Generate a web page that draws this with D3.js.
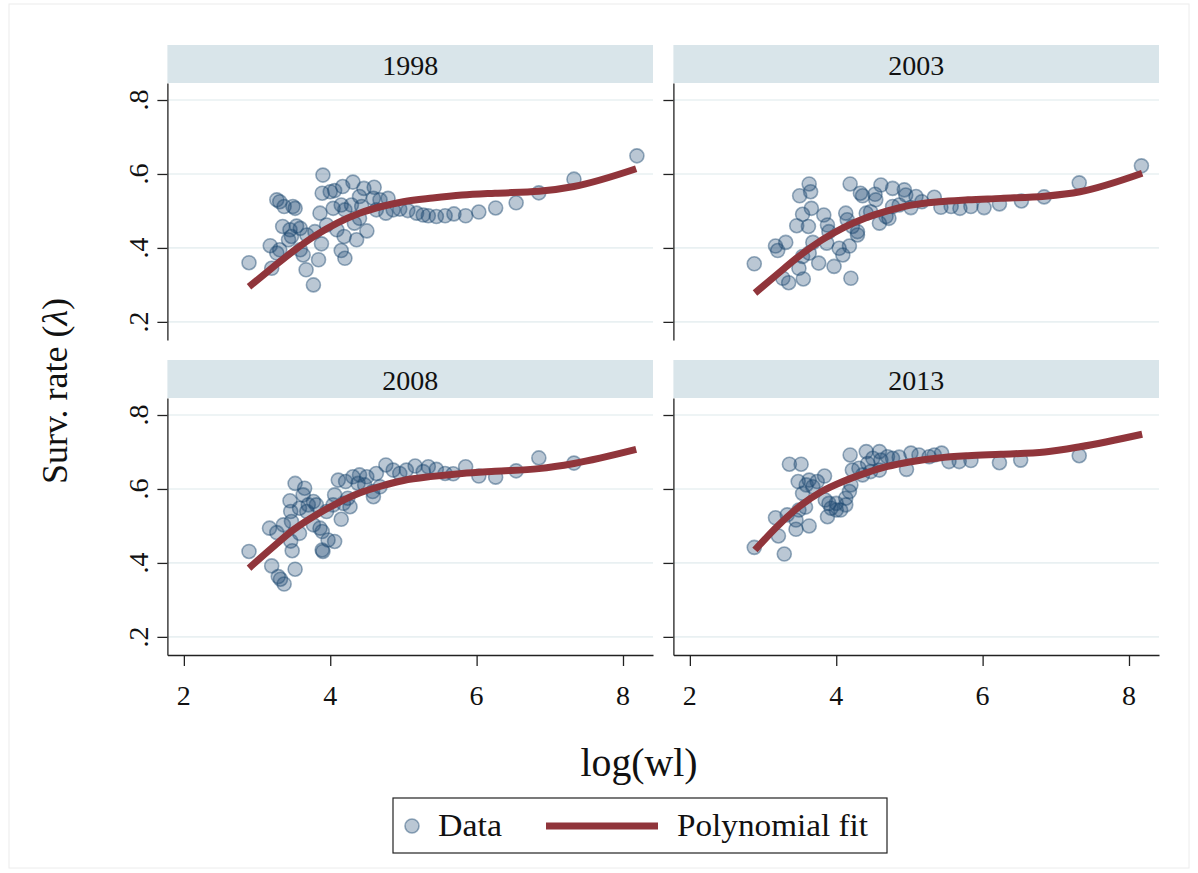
<!DOCTYPE html>
<html><head><meta charset="utf-8">
<script src="https://cdn.jsdelivr.net/npm/d3@7"></script>
<style>body{margin:0;background:#fff} svg{display:block}</style>
</head><body><svg id="c" width="1198" height="873"></svg>
<script>
// ---------- DATA ----------
const years = ["1998", "2003", "2008", "2013"];

const x1998 = [3.90,3.89,4.00,4.06,4.17,4.31,4.46,4.60,4.40,3.27,3.31,3.37,3.49,3.52,3.86,4.04,4.15,4.20,4.29,4.43,4.59,4.68,4.79,4.63,4.76,4.86,4.95,5.06,5.18,5.27,5.34,5.45,5.57,5.69,3.35,3.45,3.54,3.59,3.47,3.43,3.68,3.79,3.95,4.09,4.19,4.36,4.50,4.33,4.40,3.18,3.31,3.27,3.59,3.63,3.88,4.15,4.20,3.84,2.89,3.20,3.67,3.77,5.85,6.03,6.26,6.54,6.85,7.33,8.19];
const y1998 = [0.597,0.548,0.552,0.555,0.566,0.578,0.561,0.564,0.539,0.530,0.525,0.512,0.512,0.507,0.494,0.507,0.516,0.503,0.516,0.512,0.534,0.530,0.534,0.503,0.494,0.503,0.505,0.501,0.494,0.489,0.487,0.485,0.487,0.492,0.458,0.449,0.459,0.453,0.431,0.422,0.435,0.444,0.462,0.449,0.431,0.422,0.446,0.467,0.480,0.406,0.395,0.386,0.395,0.381,0.411,0.393,0.372,0.368,0.360,0.345,0.341,0.300,0.487,0.497,0.508,0.522,0.549,0.586,0.649];

const x2003 = [2.88,3.17,3.20,3.31,3.27,3.35,3.55,3.49,3.63,3.65,3.50,3.66,3.54,3.46,3.62,3.68,3.63,3.54,3.76,3.83,3.88,3.90,3.87,3.97,4.04,4.09,4.18,4.20,4.19,4.13,4.15,4.22,4.29,4.29,4.33,4.36,4.53,4.54,4.41,4.47,4.59,4.68,4.72,4.61,4.77,4.93,4.95,4.77,4.86,5.02,5.09,5.17,5.34,5.43,5.57,5.69,5.84,6.02,6.23,6.53,6.84,7.32,8.17];
const y2003 = [0.357,0.405,0.393,0.415,0.318,0.306,0.316,0.345,0.573,0.552,0.541,0.507,0.491,0.460,0.458,0.415,0.386,0.377,0.359,0.489,0.462,0.444,0.413,0.350,0.399,0.381,0.405,0.318,0.573,0.494,0.476,0.458,0.444,0.435,0.548,0.541,0.545,0.530,0.494,0.498,0.467,0.485,0.480,0.570,0.561,0.557,0.543,0.512,0.516,0.509,0.539,0.525,0.537,0.510,0.512,0.507,0.512,0.509,0.519,0.527,0.538,0.576,0.622];

const x2008 = [2.89,3.20,3.29,3.32,3.37,3.52,3.17,3.27,3.36,3.46,3.48,3.58,3.47,3.45,3.46,3.52,3.65,3.63,3.58,3.70,3.77,3.81,3.68,3.77,3.86,3.89,3.97,4.06,3.89,3.90,3.95,4.04,4.15,4.06,4.18,4.24,4.27,4.11,4.21,4.31,4.40,4.50,4.38,4.47,4.58,4.59,4.68,4.63,4.76,4.86,4.95,5.04,5.16,5.27,5.34,5.45,5.57,5.68,5.85,6.03,6.26,6.54,6.85,7.33];
const y2008 = [0.431,0.392,0.363,0.356,0.343,0.383,0.494,0.482,0.503,0.459,0.433,0.480,0.512,0.568,0.539,0.615,0.602,0.584,0.548,0.557,0.566,0.557,0.539,0.503,0.494,0.485,0.462,0.458,0.435,0.431,0.539,0.557,0.518,0.584,0.561,0.575,0.552,0.624,0.620,0.633,0.638,0.633,0.615,0.611,0.593,0.579,0.606,0.642,0.665,0.651,0.642,0.651,0.662,0.647,0.660,0.653,0.642,0.641,0.660,0.635,0.632,0.649,0.684,0.670];

const x2013 = [2.88,3.29,3.17,3.21,3.36,3.52,3.48,3.63,3.74,3.84,3.54,3.59,3.68,3.33,3.45,3.45,3.49,3.58,3.63,3.85,3.90,3.88,4.00,4.06,3.93,4.13,4.18,4.20,4.13,4.00,4.19,4.41,4.59,4.22,4.31,4.43,4.50,4.61,4.70,4.36,4.47,4.59,4.77,4.86,4.96,5.02,5.13,5.27,5.34,5.44,5.54,5.68,5.84,6.23,6.52,7.32];
const y2013 = [0.442,0.424,0.522,0.473,0.667,0.667,0.620,0.624,0.620,0.635,0.588,0.611,0.606,0.530,0.516,0.491,0.543,0.551,0.500,0.570,0.561,0.525,0.543,0.543,0.548,0.575,0.593,0.611,0.557,0.561,0.692,0.701,0.701,0.651,0.656,0.669,0.683,0.678,0.687,0.638,0.647,0.651,0.683,0.686,0.653,0.697,0.692,0.687,0.692,0.697,0.674,0.674,0.677,0.671,0.678,0.690];

// polynomial fit, evaluated at these x values
const fitX    = [2.89, 3.2, 3.5, 3.8, 4.1, 4.4, 4.7, 5.0, 5.4, 5.8, 6.25, 6.85, 7.33, 8.18];
const fit1998 = [0.295,0.345,0.392,0.434,0.468,0.494,0.512,0.525,0.535,0.543,0.548,0.553,0.566,0.614];
const fit2003 = [0.278,0.330,0.379,0.421,0.455,0.481,0.500,0.515,0.525,0.530,0.534,0.540,0.552,0.602];
const fit2008 = [0.386,0.440,0.490,0.529,0.562,0.589,0.608,0.623,0.634,0.642,0.648,0.655,0.669,0.707];
const fit2013 = [0.435,0.500,0.553,0.593,0.621,0.643,0.661,0.673,0.684,0.690,0.694,0.700,0.714,0.748];

const xTicks = [2, 4, 6, 8];
const yTicks = [0.2, 0.4, 0.6, 0.8];
const yTickLabels = [".2", ".4", ".6", ".8"];
const xTitle = "log(wl)";
const yTitleMain = "Surv. rate (";
const yTitleSym = "λ";
const legendLabels = ["Data", "Polynomial fit"];

// ---------- STYLE / LAYOUT ----------
const FONT = "'Liberation Serif', serif";
const MARK = "#1a476f", FIT = "#90353b", STRIP = "#d9e5ea", GRID = "#e9f0f2", AX = "#222";
const colLeft = [167.4, 673.4], panelW = 485.6;
const rowTop = [83, 398], panelH = 257, stripH = 38;
const xDomain = [1.775, 8.41], yDomain = [0.151, 0.846];

const seriesX = [x1998, x2003, x2008, x2013];
const seriesY = [y1998, y2003, y2008, y2013];
const fits = [fit1998, fit2003, fit2008, fit2013];

const svg = d3.select("#c");
svg.append("rect").attr("x", 9).attr("y", 4).attr("width", 1180).attr("height", 864)
   .attr("fill", "#fff").attr("stroke", "#ececec").attr("stroke-width", 1);

years.forEach((yr, i) => {
  const col = i % 2, row = Math.floor(i / 2);
  const L = colLeft[col], T = rowTop[row];
  const xs = d3.scaleLinear().domain(xDomain).range([L, L + panelW]);
  const ys = d3.scaleLinear().domain(yDomain).range([T + panelH, T]);
  const g = svg.append("g");

  // strip
  g.append("rect").attr("x", L).attr("y", T - stripH).attr("width", panelW).attr("height", stripH)
    .attr("fill", STRIP);
  g.append("text").attr("x", L + panelW / 2).attr("y", T - stripH / 2 + 1)
    .attr("text-anchor", "middle").attr("dominant-baseline", "central")
    .attr("font-family", FONT).attr("font-size", 28).attr("fill", "#111").text(yr);

  // grid
  g.selectAll(".grid").data(yTicks).join("line")
    .attr("x1", L).attr("x2", L + panelW)
    .attr("y1", d => ys(d)).attr("y2", d => ys(d))
    .attr("stroke", GRID).attr("stroke-width", 1.6);

  // y axis
  const ya = g.append("g").attr("transform", `translate(${L},0)`)
    .call(d3.axisLeft(ys).tickValues(yTicks).tickSize(10).tickSizeOuter(0).tickFormat(""));
  ya.selectAll("path,line").attr("stroke", AX).attr("stroke-width", 1.3);
  if (col === 0) {
    yTicks.forEach((t, k) => {
      g.append("text").attr("transform", `translate(${L - 19},${ys(t)}) rotate(-90)`)
        .attr("text-anchor", "middle").attr("font-family", FONT).attr("font-size", 28)
        .attr("fill", "#111").text(yTickLabels[k]);
    });
  }
  // x axis on bottom row
  if (row === 1) {
    const xa = g.append("g").attr("transform", `translate(0,${T + panelH})`)
      .call(d3.axisBottom(xs).tickValues(xTicks).tickSize(11).tickSizeOuter(0).tickFormat(""));
    xa.selectAll("path,line").attr("stroke", AX).attr("stroke-width", 1.3);
    xTicks.forEach(t => {
      g.append("text").attr("x", xs(t)).attr("y", T + panelH + 50)
        .attr("text-anchor", "middle").attr("font-family", FONT).attr("font-size", 28)
        .attr("fill", "#111").text(t);
    });
  }

  // points
  const pts = seriesX[i].map((x, k) => ({x, y: seriesY[i][k]}));
  g.selectAll(".pt").data(pts).join("circle")
    .attr("cx", d => xs(d.x)).attr("cy", d => ys(d.y)).attr("r", 7)
    .attr("fill", MARK).attr("fill-opacity", 0.3)
    .attr("stroke", MARK).attr("stroke-opacity", 0.45).attr("stroke-width", 1.6);

  // fit
  const line = d3.line().x(d => xs(d[0])).y(d => ys(d[1])).curve(d3.curveMonotoneX);
  g.append("path").datum(fitX.map((x, k) => [x, fits[i][k]]))
    .attr("d", line).attr("fill", "none").attr("stroke", FIT).attr("stroke-width", 7);
});

// axis titles
svg.append("text").attr("x", 639).attr("y", 776).attr("text-anchor", "middle")
  .attr("font-family", FONT).attr("font-size", 39).attr("fill", "#111")
  .attr("textLength", 117).attr("lengthAdjust", "spacingAndGlyphs").text(xTitle);
const yt = svg.append("text").attr("transform", "translate(67,391) rotate(-90)")
  .attr("text-anchor", "middle").attr("font-family", FONT).attr("font-size", 36).attr("fill", "#111");
yt.append("tspan").text(yTitleMain);
yt.append("tspan").attr("font-style", "italic").text(yTitleSym);
yt.append("tspan").text(")");

// legend
const lg = svg.append("g");
lg.append("rect").attr("x", 393).attr("y", 798).attr("width", 494).attr("height", 55)
  .attr("fill", "#fff").attr("stroke", "#222").attr("stroke-width", 1.2);
lg.append("circle").attr("cx", 412).attr("cy", 826).attr("r", 7)
  .attr("fill", MARK).attr("fill-opacity", 0.3)
  .attr("stroke", MARK).attr("stroke-opacity", 0.45).attr("stroke-width", 1.6);
lg.append("text").attr("x", 438).attr("y", 836).attr("font-family", FONT).attr("font-size", 31)
  .attr("fill", "#111").attr("textLength", 64).attr("lengthAdjust", "spacingAndGlyphs").text(legendLabels[0]);
lg.append("line").attr("x1", 546).attr("x2", 658).attr("y1", 826).attr("y2", 826)
  .attr("stroke", FIT).attr("stroke-width", 7);
lg.append("text").attr("x", 677).attr("y", 836).attr("font-family", FONT).attr("font-size", 31)
  .attr("fill", "#111").attr("textLength", 191).attr("lengthAdjust", "spacingAndGlyphs").text(legendLabels[1]);
</script></body></html>
